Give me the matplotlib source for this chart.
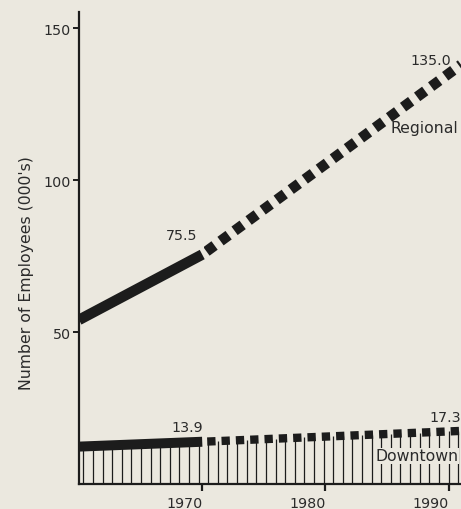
import numpy as np
import matplotlib.pyplot as plt

# data (thousands of employees)
years_hist = [1960, 1970]
years_proj = [1970, 1990]
regional_hist = [54.0, 75.5]
regional_proj = [75.5, 135.0]
downtown_hist = [12.3, 13.9]
downtown_proj = [13.9, 17.3]
xticks = [1970, 1980, 1990]
yticks = [50, 100, 150]

bg = '#ebe8df'
ink = '#1c1c1c'
txt = '#2b2b2b'

plt.rcParams['font.family'] = ['DejaVu Sans']

fig = plt.figure(figsize=(4.61, 5.10), dpi=100, facecolor=bg)
ax = fig.add_axes([79 / 461, 1 - 485 / 510, (461 - 79) / 461, (485 - 13) / 510])
ax.set_facecolor(bg)
ax.set_xlim(1960, 1991)
ax.set_ylim(0, 155.3)

for s in ['top', 'right']:
    ax.spines[s].set_visible(False)
for s in ['left', 'bottom']:
    ax.spines[s].set_linewidth(1.6)
    ax.spines[s].set_color(ink)

ax.set_xticks(xticks)
ax.set_xticklabels([str(t) for t in xticks], ha='right')
ax.set_yticks(yticks)
ax.tick_params(axis='x', direction='out', length=5, width=1.6, color=ink,
               labelsize=10.3, labelcolor=txt, pad=4)
ax.tick_params(axis='y', direction='out', length=4, width=1.4, color=ink,
               labelsize=10.3, labelcolor=txt, pad=2)

# hatch under the downtown line
hx = np.arange(1960.35, 1991, 0.78)
all_years = years_hist + years_proj[1:]
all_down = downtown_hist + downtown_proj[1:]
hy = np.interp(hx, all_years, all_down)
ax.vlines(hx, 0, hy, color=ink, lw=0.9, zorder=1)


def dashed_projection(p0, p1, lw, on, off, gap0):
    # projection line through the two points, clipped to x >= start
    ln = ax.axline(p0, p1, color=ink, lw=lw, solid_capstyle='butt',
                   dash_capstyle='butt', zorder=3)
    x0, x1 = ax.get_xlim()
    slope = (p1[1] - p0[1]) / (p1[0] - p0[0])
    a = ax.transData.transform((x0, p0[1] + slope * (x0 - p0[0])))
    b = ax.transData.transform(p0)
    L = np.hypot(*(b - a)) * 72 / fig.dpi / lw
    period = on + off
    offset = (period - gap0 - L) % period
    ln.set_linestyle((offset, (on, off)))
    clip = plt.Rectangle((p0[0] + 0.15, -10), 100, 300, transform=ax.transData)
    ln.set_clip_path(clip)
    return ln


# regional
ax.plot(years_hist, regional_hist, color=ink, lw=7.6, solid_capstyle='butt', zorder=3)
dashed_projection((years_proj[0], regional_proj[0]), (years_proj[1], regional_proj[1]),
                  7.6, 0.95, 0.7, 0.5)

# downtown
ax.plot(years_hist, downtown_hist, color=ink, lw=7.2, solid_capstyle='butt', zorder=3)
dashed_projection((years_proj[0], downtown_proj[0]), (years_proj[1], downtown_proj[1]),
                  6.0, 1.0, 0.72, 0.6)

# value labels
ax.annotate(f'{regional_hist[1]:.1f}', (years_hist[1], regional_hist[1]),
            xytext=(-21, 20), textcoords='offset pixels', ha='center', va='center',
            fontsize=10.3, color=txt)
ax.annotate(f'{regional_proj[1]:.1f}', (years_proj[1], regional_proj[1]),
            xytext=(-18, 14), textcoords='offset pixels', ha='center', va='center',
            fontsize=10.3, color=txt)
ax.annotate(f'{downtown_hist[1]:.1f}', (years_hist[1], downtown_hist[1]),
            xytext=(-15, 15), textcoords='offset pixels', ha='center', va='center',
            fontsize=10.3, color=txt)
ax.annotate(f'{downtown_proj[1]:.1f}', (years_proj[1], downtown_proj[1]),
            xytext=(-3, 14), textcoords='offset pixels', ha='center', va='center',
            fontsize=10.3, color=txt)

ax.text(390 / 461, 1 - 129 / 510, 'Regional', transform=fig.transFigure,
        ha='left', va='center', fontsize=11.3, color=txt)
ax.text(375 / 461, 1 - 457 / 510, 'Downtown', transform=fig.transFigure,
        ha='left', va='center', fontsize=11.3, color=txt, zorder=4,
        bbox=dict(facecolor=bg, edgecolor='none', pad=0.5))

fig.text(27 / 461, 1 - 273 / 510, "Number of Employees (000's)", rotation=90,
         ha='center', va='center', fontsize=11.3, color=txt)

fig.savefig('out.png', dpi=100, facecolor=bg)
